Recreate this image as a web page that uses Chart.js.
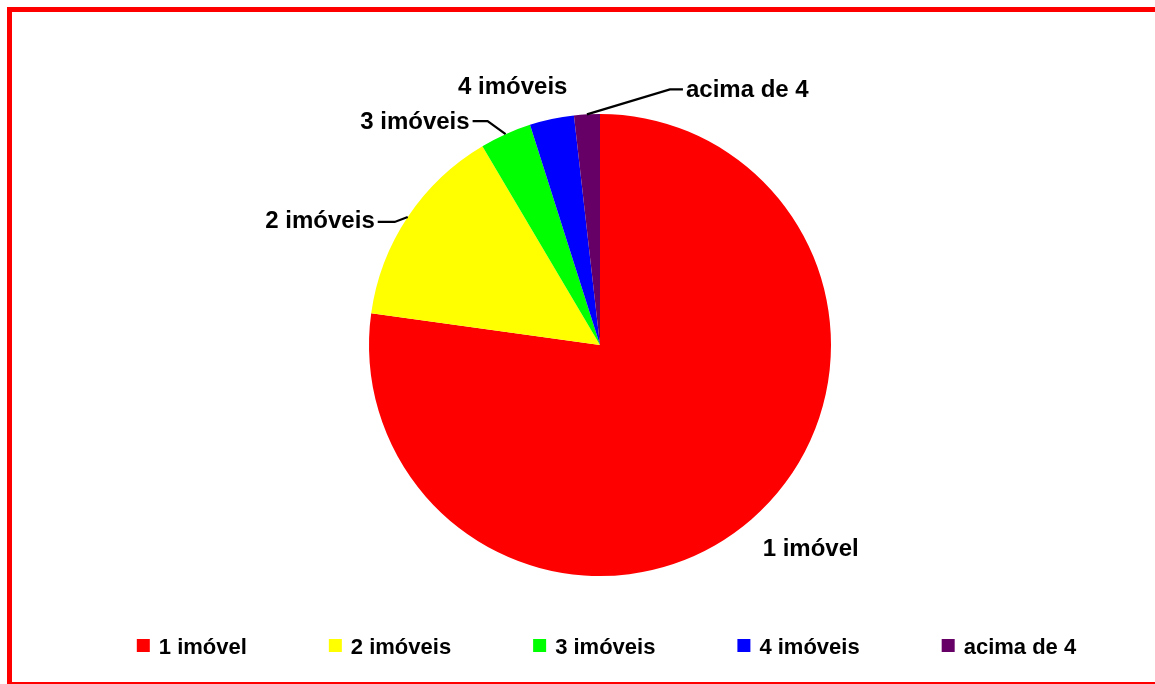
<!DOCTYPE html>
<html>
<head>
<meta charset="utf-8">
<script src="https://cdn.jsdelivr.net/npm/chart.js@4.4.1/dist/chart.umd.min.js"></script>
<style>
  html, body { margin: 0; padding: 0; background: #ffffff; overflow: hidden; }
  #wrap { position: relative; width: 1155px; height: 684px; overflow: hidden; }
  #c { position: absolute; left: 0; top: 0; }
  #frame { position: absolute; left: 7px; top: 7px; width: 1200px; height: 670px; border: 5px solid #ff0000; pointer-events: none; }
</style>
</head>
<body>
<div id="wrap">
  <canvas id="c" width="1155" height="684"></canvas>
  <div id="frame"></div>
</div>
<script>
// ---- data ----
const categories = ['1 imóvel', '2 imóveis', '3 imóveis', '4 imóveis', 'acima de 4'];
const shares = [77.2, 14.3, 3.6, 3.1, 1.8];
const sliceColors = ['#ff0000', '#ffff00', '#00ff00', '#0000ff', '#660066'];

// ---- label layout (relative to the slice's outer mid point) ----
const labelLayout = [
  { type: 'plain', dx: 11, dy: 37, align: 'left' },
  { type: 'leader', ex: -13, ey: 5, h: -17, base: 6.5 },
  { type: 'leader', ex: -18, ey: -13, h: -15, base: 8 },
  { type: 'plain', dx: -39, dy: -25, align: 'center' },
  { type: 'leader', ex: 83, ey: -25, h: 13, base: 7.7 }
];
const FONT_FAMILY = '"Liberation Sans", Arial, Helvetica, sans-serif';

const labelPlugin = {
  id: 'sliceLabels',
  afterDatasetsDraw(chart) {
    const ctx = chart.ctx;
    const meta = chart.getDatasetMeta(0);
    ctx.save();
    ctx.font = 'bold 24px ' + FONT_FAMILY;
    ctx.fillStyle = '#000';
    ctx.strokeStyle = '#000';
    ctx.lineWidth = 2.2;
    ctx.textBaseline = 'alphabetic';
    meta.data.forEach((arc, i) => {
      const p = arc.getProps(['x', 'y', 'startAngle', 'endAngle', 'outerRadius'], true);
      const mid = (p.startAngle + p.endAngle) / 2;
      const px = p.x + Math.cos(mid) * p.outerRadius;
      const py = p.y + Math.sin(mid) * p.outerRadius;
      const L = labelLayout[i];
      if (L.type === 'plain') {
        ctx.textAlign = L.align;
        ctx.fillText(chart.data.labels[i], px + L.dx, py + L.dy);
      } else {
        const ex = px + L.ex, ey = py + L.ey;
        const hx = ex + L.h;
        ctx.beginPath();
        ctx.moveTo(px, py);
        ctx.lineTo(ex, ey);
        ctx.lineTo(hx, ey);
        ctx.stroke();
        if (L.h < 0) {
          ctx.textAlign = 'right';
          ctx.fillText(chart.data.labels[i], hx - 3, ey + L.base);
        } else {
          ctx.textAlign = 'left';
          ctx.fillText(chart.data.labels[i], hx + 3, ey + L.base);
        }
      }
    });
    ctx.restore();
  }
};

const legendPlugin = {
  id: 'bottomLegend',
  afterDraw(chart) {
    const ctx = chart.ctx;
    const labels = chart.data.labels;
    const colors = chart.data.datasets[0].backgroundColor;
    const box = 13, boxGap = 9, itemGap = 82, centerX = 606.5, boxTop = 639, baseline = 654;
    ctx.save();
    ctx.font = 'bold 22px ' + FONT_FAMILY;
    const widths = labels.map(t => box + boxGap + ctx.measureText(t).width);
    const total = widths.reduce((a, b) => a + b, 0) + itemGap * (labels.length - 1);
    let x = centerX - total / 2;
    ctx.textAlign = 'left';
    ctx.textBaseline = 'alphabetic';
    labels.forEach((t, i) => {
      ctx.fillStyle = colors[i];
      ctx.fillRect(x, boxTop, box, box);
      ctx.fillStyle = '#000';
      ctx.fillText(t, x + box + boxGap, baseline);
      x += widths[i] + itemGap;
    });
    ctx.restore();
  }
};

new Chart(document.getElementById('c'), {
  type: 'pie',
  data: {
    labels: categories,
    datasets: [{
      data: shares,
      backgroundColor: sliceColors,
      borderWidth: 0
    }]
  },
  options: {
    responsive: false,
    animation: false,
    events: [],
    layout: { padding: { top: 114, bottom: 108, left: 45, right: 0 } },
    plugins: {
      legend: { display: false },
      tooltip: { enabled: false },
      title: { display: false }
    }
  },
  plugins: [labelPlugin, legendPlugin]
});
</script>
</body>
</html>
